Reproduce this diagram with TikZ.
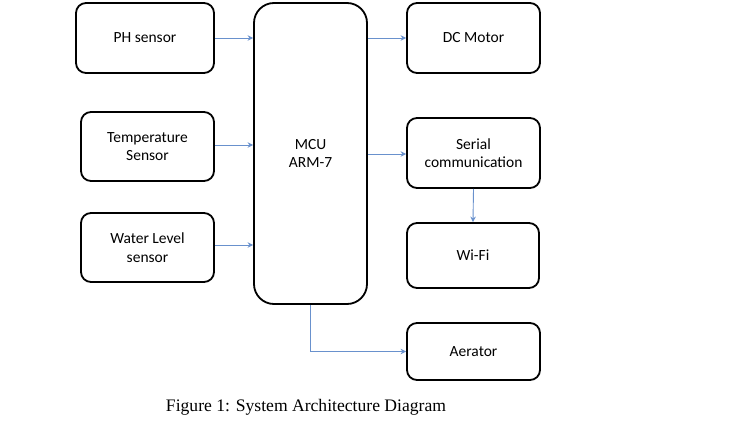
\documentclass[tikz,border=0pt]{standalone}
\usepackage{fontspec}
\setmainfont{Liberation Serif}
\newfontfamily\boxfont{Carlito}
\usetikzlibrary{arrows.meta}
\definecolor{conn}{RGB}{105,145,205}
\tikzset{
  blk/.style={draw=black, line width=1.8pt, rounded corners=10pt, inner sep=0pt,
    align=center, font=\boxfont\fontsize{15.5}{18.5}\selectfont},
  conn/.style={draw=conn, line width=0.9pt, -{Stealth[length=5.5pt,width=5.5pt]}},
}
\begin{document}
\begin{tikzpicture}[x=1pt,y=-1pt]
\useasboundingbox (0,0) rectangle (739,423);
\fill[white] (0,0) rectangle (739,423);
% boxes
\node[blk, minimum width=138pt, minimum height=70pt] (ph) at (145,38) {PH sensor};
\node[blk, minimum width=133pt, minimum height=69pt] (temp) at (147.5,146.5) {Temperature\\Sensor};
\node[blk, minimum width=133pt, minimum height=69pt] (water) at (147.5,247.5) {Water Level\\sensor};
\node[blk, rounded corners=20pt, minimum width=113pt, minimum height=301pt] (mcu) at (310.5,153.5) {MCU\\ARM-7};
\node[blk, minimum width=133pt, minimum height=70pt] (dc) at (473.5,38) {DC Motor};
\node[blk, minimum width=133pt, minimum height=70pt] (serial) at (473.5,153) {Serial\\communication};
\node[blk, minimum width=132pt, minimum height=65pt] (wifi) at (473,255.5) {Wi-Fi};
\node[blk, minimum width=133pt, minimum height=57pt] (aer) at (473.5,351.5) {Aerator};
% connectors
\draw[conn] (ph.east) -- (mcu.west |- ph.east);
\draw[conn] (temp.east) ++(0,-1.5) coordinate (t1) (t1) -- (mcu.west |- t1);
\draw[conn] (water.east) ++(0,-2.5) coordinate (w1) (w1) -- (mcu.west |- w1);
\draw[conn] (mcu.east |- dc.west) -- (dc.west);
\draw[conn] (mcu.east |- serial.west) ++(0,1) coordinate (s1) (s1) -- (serial.west |- s1);
\draw[conn] (serial.south) -- (wifi.north);
\draw[conn] (mcu.south) -- (mcu.south |- aer.west) -- (aer.west);
% caption
\node[font=\fontsize{17.6}{20}\selectfont, inner sep=0pt] (cap) at (306,407) {Figure 1: System Architecture Diagram};
\end{tikzpicture}
\end{document}
